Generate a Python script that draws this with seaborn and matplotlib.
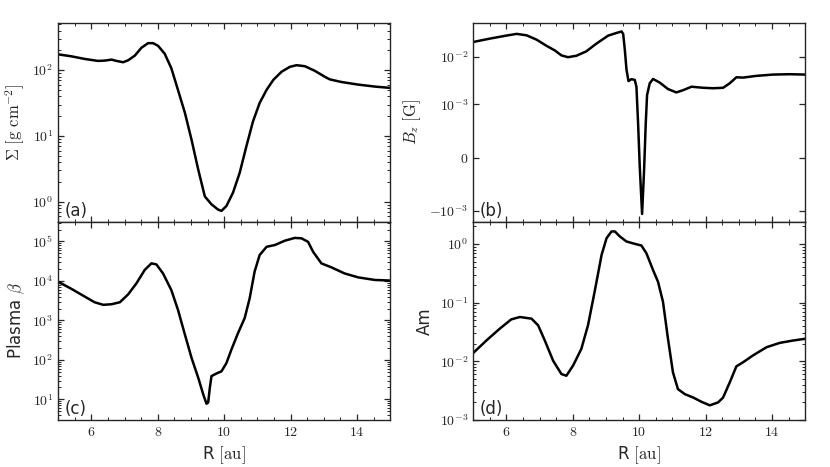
import numpy as np
import pandas as pd
import matplotlib
matplotlib.use("Agg")
import matplotlib.pyplot as plt
import matplotlib.ticker as mticker
import seaborn as sns

# --- data ---
# (a) surface density, log10 of Sigma [g cm^-2]
r_sigma = [5.0, 5.40, 5.80, 6.20, 6.41, 6.61, 6.76, 6.96, 7.11, 7.31, 7.51, 7.71,
           7.86, 8.01, 8.21, 8.41, 8.61, 8.82, 9.02, 9.22, 9.42, 9.62, 9.82, 9.92,
           10.07, 10.27, 10.47, 10.67, 10.87, 11.07, 11.28, 11.48, 11.73, 11.98,
           12.18, 12.43, 12.73, 13.03, 13.18, 13.53, 14.04, 14.54, 15.0]
log_sigma = [2.24, 2.21, 2.17, 2.14, 2.145, 2.16, 2.14, 2.12, 2.15, 2.22, 2.34, 2.41,
             2.41, 2.37, 2.25, 2.03, 1.70, 1.35, 0.94, 0.49, 0.08, -0.04, -0.12, -0.14,
             -0.065, 0.14, 0.44, 0.84, 1.22, 1.50, 1.70, 1.85, 1.975, 2.05,
             2.075, 2.06, 1.99, 1.90, 1.86, 1.82, 1.78, 1.75, 1.73]

# (b) vertical field B_z [G]
r_bz = [5.0, 5.50, 6.0, 6.31, 6.61, 6.91, 7.21, 7.46, 7.66, 7.86, 8.11, 8.41,
        8.71, 9.07, 9.32, 9.47, 9.52, 9.57, 9.62, 9.68, 9.77, 9.87, 9.92, 9.97,
        10.02, 10.09, 10.15, 10.2, 10.24, 10.32, 10.42, 10.62, 10.87, 11.12,
        11.33, 11.58, 11.93, 12.23, 12.53, 12.73, 12.93, 13.13, 13.53, 14.04,
        14.54, 15.0]
bz = [0.0204, 0.0240, 0.0278, 0.0302, 0.0282, 0.0229, 0.0170, 0.0136, 0.0107, 0.0098,
      0.0105, 0.0130, 0.0188, 0.0278, 0.0316, 0.0339, 0.0302, 0.0141, 0.0054, 0.0031,
      0.0034, 0.00327, 0.00234, 0.00064, -0.000177, -0.00118, -0.00024, 0.00064,
      0.00158, 0.00278, 0.00343, 0.00288, 0.00211, 0.00179, 0.0020, 0.00236,
      0.00224, 0.00219, 0.00224, 0.00278, 0.00372, 0.00366, 0.00398, 0.00424,
      0.00431, 0.00424]

# (c) plasma beta, log10
r_beta = [5.0, 5.40, 5.80, 6.10, 6.36, 6.61, 6.86, 7.11, 7.36, 7.61, 7.81, 7.96,
          8.16, 8.41, 8.61, 8.82, 9.02, 9.22, 9.37, 9.47, 9.52, 9.57, 9.62, 9.77,
          9.92, 10.07, 10.22, 10.42, 10.62, 10.77, 10.92, 11.07, 11.28, 11.53,
          11.83, 12.13, 12.33, 12.53, 12.68, 12.93, 13.23, 13.63, 14.04, 14.54, 15.0]
log_beta = [3.98, 3.80, 3.605, 3.46, 3.395, 3.41, 3.46, 3.66, 3.94, 4.28, 4.445, 4.42,
            4.19, 3.77, 3.27, 2.64, 2.05, 1.55, 1.13, 0.89, 0.92, 1.29, 1.59, 1.655,
            1.71, 1.92, 2.26, 2.68, 3.06, 3.56, 4.24, 4.655, 4.865, 4.91,
            5.02, 5.09, 5.08, 4.99, 4.74, 4.445, 4.345, 4.19, 4.09, 4.025, 4.01]

# (d) ambipolar Elsasser number Am, log10
r_am = [5.0, 5.40, 5.80, 6.15, 6.41, 6.76, 6.96, 7.16, 7.41, 7.66, 7.81, 8.01,
        8.26, 8.46, 8.66, 8.87, 9.02, 9.17, 9.27, 9.42, 9.62, 9.87, 10.07, 10.22,
        10.42, 10.57, 10.72, 10.87, 11.02, 11.17, 11.38, 11.63, 11.88, 12.13,
        12.38, 12.53, 12.73, 12.93, 13.13, 13.43, 13.84, 14.24, 14.64, 15.0]
log_am = [-1.86, -1.646, -1.446, -1.286, -1.246, -1.274, -1.389, -1.646, -1.99, -2.217,
          -2.246, -2.074, -1.789, -1.389, -0.817, -0.189, 0.097, 0.211, 0.211, 0.126,
          0.04, 0.0, -0.029, -0.16, -0.446, -0.646, -0.989, -1.617, -2.189, -2.474,
          -2.56, -2.617, -2.69, -2.75, -2.70, -2.617, -2.36, -2.086, -2.017, -1.90,
          -1.76, -1.686, -1.646, -1.617]

sns.set_style("ticks")
plt.rcParams["font.family"] = ["DejaVu Sans"]
plt.rcParams["mathtext.fontset"] = "cm"
plt.rcParams["axes.linewidth"] = 1.0

fig, axes = plt.subplots(2, 2, figsize=(8.3, 4.67), dpi=100, sharex=True)
fig.subplots_adjust(left=0.07, right=0.97, bottom=0.1006, top=0.9507,
                    hspace=0, wspace=0.25)

panels = [
    (axes[0, 0], r_sigma, [10 ** v for v in log_sigma], r"$\Sigma\ [\rm g\ cm^{-2}]$", "(a)"),
    (axes[0, 1], r_bz, bz, r"$B_z\ [\rm G]$", "(b)"),
    (axes[1, 0], r_beta, [10 ** v for v in log_beta], r"Plasma $\beta$", "(c)"),
    (axes[1, 1], r_am, [10 ** v for v in log_am], "Am", "(d)"),
]

def log_fmt(v, pos):
    return r"$10^{%d}$" % int(round(np.log10(v)))

for ax, x, y, lab, tag in panels:
    df = pd.DataFrame({"R": x, "val": y})
    sns.lineplot(data=df, x="R", y="val", ax=ax, color="black", lw=1.8, sort=False)
    ax.set_ylabel(lab, fontsize=12)
    ax.set_xlabel("")
    ax.text(0.02, 0.03, tag, transform=ax.transAxes, fontsize=12)
    ax.tick_params(which="both", direction="in", top=True, right=True, labelsize=10)
    ax.tick_params(which="major", length=4, width=0.9)
    ax.tick_params(which="minor", length=2.2, width=0.7)

ax = axes[0, 0]
ax.set_yscale("log")
ax.set_ylim(0.5, 520)
ax.yaxis.set_major_locator(mticker.FixedLocator([1, 10, 100]))

ax = axes[1, 0]
ax.set_yscale("log")
ax.set_ylim(3, 3.2e5)
ax.yaxis.set_major_locator(mticker.FixedLocator([1e1, 1e2, 1e3, 1e4, 1e5]))

ax = axes[1, 1]
ax.set_yscale("log")
ax.set_ylim(1e-3, 2.4)
ax.yaxis.set_major_locator(mticker.FixedLocator([1e-3, 1e-2, 1e-1, 1e0]))

for ax in [axes[0, 0], axes[1, 0], axes[1, 1]]:
    ax.yaxis.set_major_formatter(mticker.FuncFormatter(log_fmt))
    ax.yaxis.set_minor_locator(mticker.LogLocator(base=10, subs=np.arange(2, 10)))
    ax.yaxis.set_minor_formatter(mticker.NullFormatter())

ax = axes[0, 1]
ax.set_yscale("symlog", linthresh=1e-3)
ax.set_ylim(-1.7e-3, 0.051)
ax.yaxis.set_major_locator(mticker.FixedLocator([-1e-3, 0, 1e-3, 1e-2]))
ax.yaxis.set_major_formatter(mticker.FixedFormatter(
    [r"$-10^{-3}$", r"$0$", r"$10^{-3}$", r"$10^{-2}$"]))
ax.yaxis.set_minor_locator(mticker.NullLocator())

for ax in axes.flat:
    ax.set_xlim(5, 15)
    ax.xaxis.set_major_locator(mticker.FixedLocator([6, 8, 10, 12, 14]))
    ax.xaxis.set_minor_locator(mticker.MultipleLocator(0.5))
    ax.xaxis.set_major_formatter(mticker.FuncFormatter(lambda v, p: r"$%d$" % v))

for ax in axes[1]:
    ax.set_xlabel(r"R $[\rm au]$", fontsize=12)
for ax in axes[0]:
    ax.tick_params(labelbottom=False)

fig.savefig("out.png", dpi=100)
